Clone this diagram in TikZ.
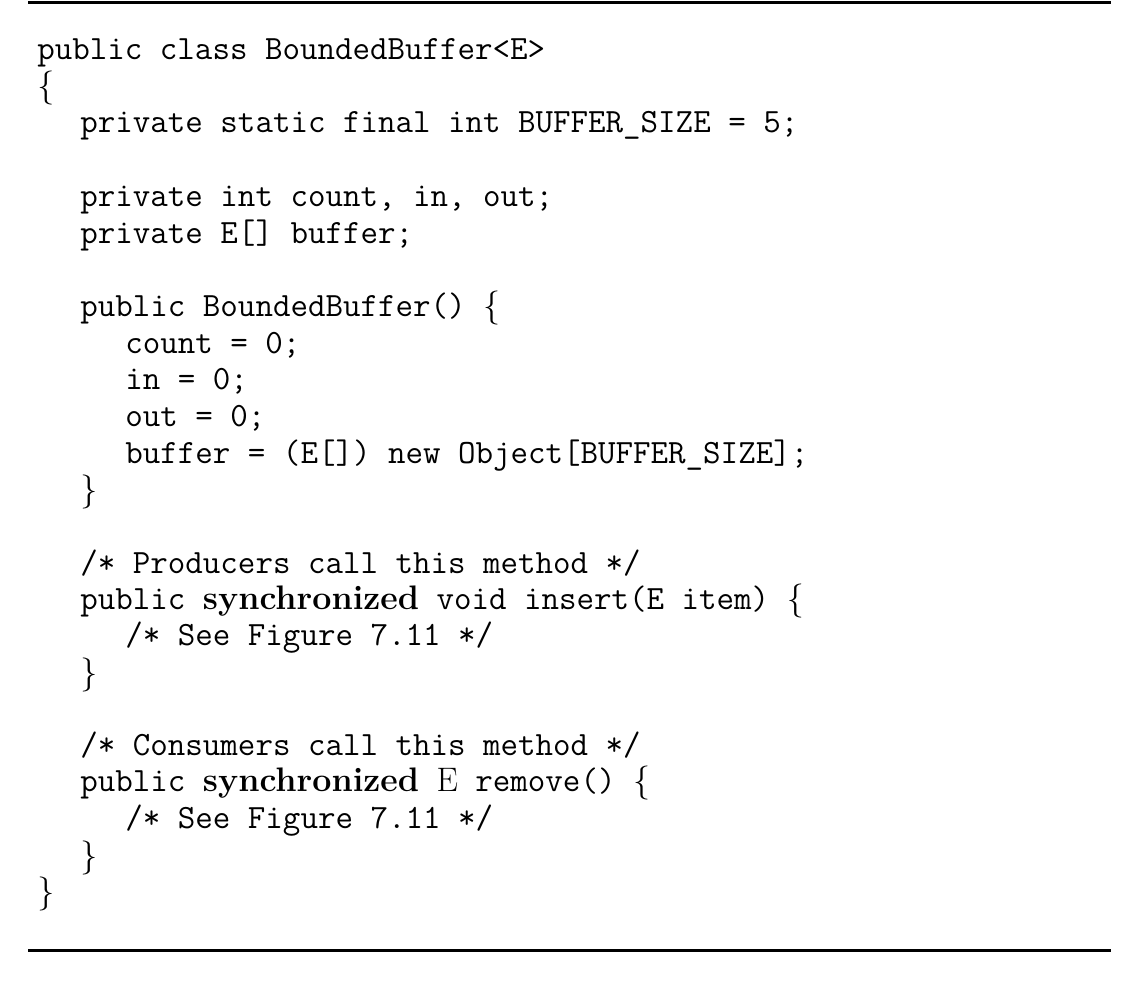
\documentclass[tikz,border=0pt]{standalone}
\begin{document}
\begin{tikzpicture}[x=0.5pt,y=-0.5pt,
  code/.style={anchor=base west,inner sep=0pt,font=\fontsize{17}{18}\selectfont\ttfamily},
  rule/.style={line width=1.5pt}]
\useasboundingbox (0,0) rectangle (1139,984);
\newcommand{\rb}[1]{{\rmfamily#1}}
\newcommand{\syn}{{\rmfamily\bfseries synchronized}}
\coordinate (t1) at (28,3); \coordinate (t2) at (1111,3);
\coordinate (b1) at (28,950); \coordinate (b2) at (1111,950);
\draw[rule] (t1) -- (t2);
\draw[rule] (b1) -- (b2);
\node[code] (l1) at (37,60) {public class BoundedBuffer<E>};
\node[code] (l2) at (37,97) {\rb{\{}};
\node[code] (l3) at (80,133) {private static final int BUFFER\_SIZE = 5;};
\node[code] (l5) at (80,206) {private int count, in, out;};
\node[code] (l6) at (80,243) {private E[] buffer;};
\node[code] (l8) at (80,316) {public BoundedBuffer() \rb{\{}};
\node[code] (l9) at (125,353) {count = 0;};
\node[code] (l10) at (125,389) {in = 0;};
\node[code] (l11) at (125,426) {out = 0;};
\node[code] (l12) at (125,463) {buffer = (E[]) new Object[BUFFER\_SIZE];};
\node[code] (l13) at (80,500) {\rb{\}}};
\node[code] (l15) at (80,573) {/* Producers call this method */};
\node[code] (l16) at (80,609) {public \syn{} void insert(E item) \rb{\{}};
\node[code] (l17) at (125,645) {/* See Figure 7.11 */};
\node[code] (l18) at (80,683) {\rb{\}}};
\node[code] (l20) at (80,755) {/* Consumers call this method */};
\node[code] (l21) at (80,791) {public \syn{} \rb{E} remove() \rb{\{}};
\node[code] (l22) at (125,828) {/* See Figure 7.11 */};
\node[code] (l23) at (80,866) {\rb{\}}};
\node[code] (l24) at (37,902) {\rb{\}}};
\end{tikzpicture}
\end{document}
